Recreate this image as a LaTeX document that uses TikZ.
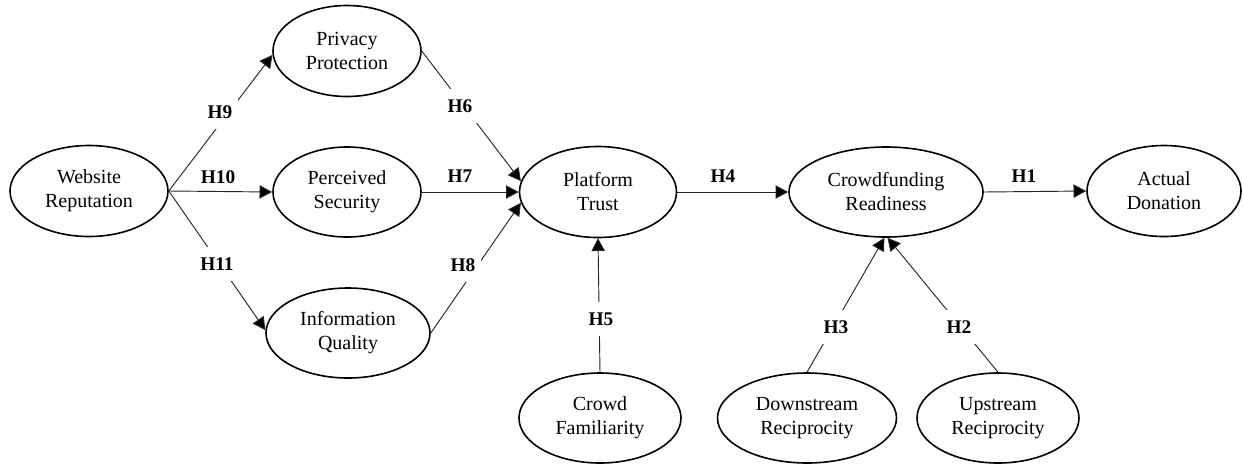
\documentclass[tikz,border=0pt]{standalone}
\usepackage{fontspec}
\setmainfont{Liberation Serif}
\usetikzlibrary{shapes.geometric,arrows.meta}
\begin{document}
\begin{tikzpicture}[x=0.75pt,y=-0.75pt,
  var/.style={ellipse,draw,line width=1.2pt,inner sep=0pt,align=center,
    font=\fontsize{15}{18}\selectfont},
  conn/.style={line width=0.7pt,draw=black!85,-{Triangle[length=9.5pt,width=10pt,fill=black]}},
  lab/.style={font=\fontsize{14.5}{17}\selectfont\bfseries,inner sep=1pt},
  gap/.style={lab,fill=white,inner xsep=4pt,inner ysep=8pt}]
\useasboundingbox (0,0) rectangle (1243,465);
% variables
\node[var,minimum width=118.5pt,minimum height=68.25pt] (WR) at (89,191) {Website\\Reputation};
\node[var,minimum width=111pt,minimum height=68.25pt] (PP) at (347,51) {Privacy\\Protection};
\node[var,minimum width=111pt,minimum height=67.5pt] (PS) at (347,192) {Perceived\\Security};
\node[var,minimum width=123pt,minimum height=67.5pt] (IQ) at (348,333) {Information\\Quality};
\node[var,minimum width=117.75pt,minimum height=68.25pt] (PT) at (598,192) {Platform\\Trust};
\node[var,minimum width=121.5pt,minimum height=67.5pt] (CF) at (600,418) {Crowd\\Familiarity};
\node[var,minimum width=145.5pt,minimum height=67.5pt] (CR) at (886,192) {Crowdfunding\\Readiness};
\node[var,minimum width=115.5pt,minimum height=68.25pt] (AD) at (1164,191) {Actual\\Donation};
\node[var,minimum width=134.25pt,minimum height=67.5pt] (DR) at (807,418) {Downstream\\Reciprocity};
\node[var,minimum width=121.5pt,minimum height=67.5pt] (UR) at (998,418) {Upstream\\Reciprocity};
% connectors
\draw[conn] (WR.east) -- (PP.183);
\draw[conn] (WR.east) -- (PS.west);
\draw[conn] (WR.east) -- (IQ.178);
\draw[conn] (PP.east) -- (PT.172);
\draw[conn] (PS.east) -- (PT.west);
\draw[conn] (IQ.east) -- (PT.188);
\draw[conn] (CF.north) -- (PT.south);
\draw[conn] (PT.east) -- (CR.west);
\draw[conn] (CR.east) -- (AD.west);
\draw[conn] (DR.north) -- (CR.268);
\draw[conn] (UR.north) -- (CR.272);
% labels
\node[gap] (H9) at (220,112) {H9};
\node[lab] (H10) at (218,177) {H10};
\node[gap] (H11) at (217,264) {H11};
\node[gap] (H6) at (460,106) {H6};
\node[lab] (H7) at (460,176) {H7};
\node[gap] (H8) at (463,265) {H8};
\node[gap] (H5) at (601,319) {H5};
\node[lab] (H4) at (723,176) {H4};
\node[lab] (H1) at (1024,176) {H1};
\node[gap] (H3) at (836,327) {H3};
\node[gap] (H2) at (959,327) {H2};
\end{tikzpicture}
\end{document}
